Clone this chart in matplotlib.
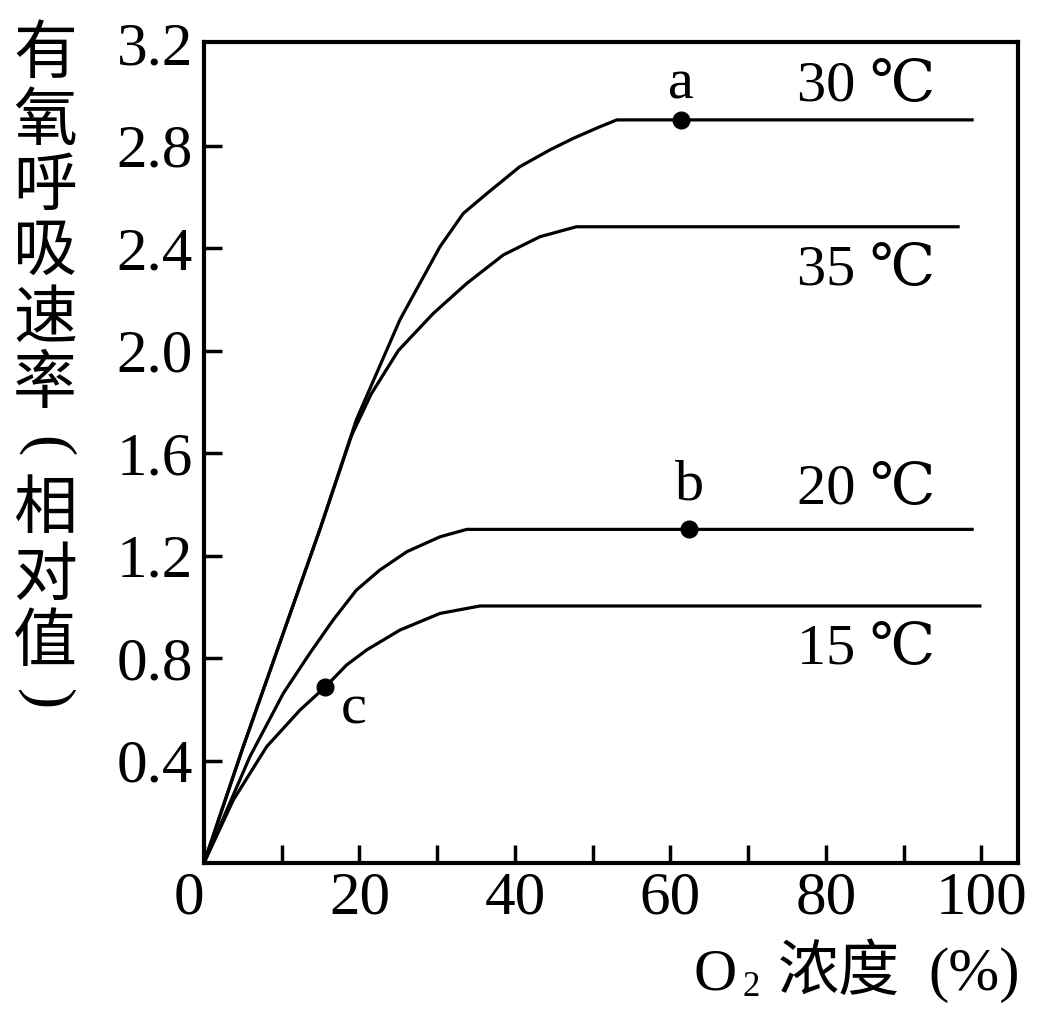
import matplotlib
matplotlib.use("Agg")
import matplotlib.pyplot as plt

plt.rcParams['font.family'] = ['Liberation Serif', 'DejaVu Serif', 'Noto Sans CJK SC']

# O2 concentration (%) vs relative aerobic respiration rate
x30 = [0, 5, 10, 15, 19.6, 25.2, 30.35, 33.35, 36.4, 40.6, 44.5, 47.5, 50.9, 53.1, 99]
y30 = [0, 0.45, 0.88, 1.31, 1.73, 2.12, 2.405, 2.535, 2.613, 2.717, 2.783, 2.828, 2.873, 2.90, 2.90]
x35 = [0, 5, 10, 15, 19.0, 21.5, 25.0, 29.5, 33.8, 38.5, 43.2, 47.9, 97.2]
y35 = [0, 0.45, 0.88, 1.31, 1.67, 1.83, 2.00, 2.145, 2.262, 2.373, 2.444, 2.483, 2.483]
x20 = [0, 5.9, 10.2, 13.6, 16.6, 19.6, 22.6, 26.1, 30.35, 33.8, 99]
y20 = [0, 0.415, 0.662, 0.818, 0.948, 1.065, 1.143, 1.215, 1.273, 1.302, 1.302]
x15 = [0, 3.77, 8.06, 12.35, 15.56, 18.35, 20.9, 25.2, 30.35, 35.5, 100]
y15 = [0, 0.246, 0.454, 0.597, 0.686, 0.773, 0.831, 0.909, 0.974, 1.003, 1.003]

curve_labels = ['30 ℃', '35 ℃', '20 ℃', '15 ℃']
label_pos = [(76.3, 3.03), (76.3, 2.31), (76.3, 1.456), (76.3, 0.83)]

points = ['a', 'b', 'c']
pt_x = [61.3, 62.4, 15.56]
pt_y = [2.90, 1.302, 0.686]
pt_text = [(61.3, 3.04), (62.4, 1.475), (19.2, 0.60)]

yticks = [0.4, 0.8, 1.2, 1.6, 2.0, 2.4, 2.8, 3.2]
xticks = [0, 20, 40, 60, 80, 100]
ylabel_chars = list('有氧呼吸速率') + ['('] + list('相对值') + [')']

W, H = 1050, 1031
fig = plt.figure(figsize=(W / 100, H / 100), dpi=100)
ax = fig.add_axes([204 / W, 1 - 863 / H, (1018 - 204) / W, (863 - 42) / H])

lw = 2.3
for xs, ys in [(x30, y30), (x35, y35), (x20, y20), (x15, y15)]:
    ax.plot(xs, ys, color='black', lw=lw, solid_capstyle='butt',
            solid_joinstyle='round')

ax.plot(pt_x, pt_y, 'o', color='black', ms=12)
for s, (tx, ty) in zip(points, pt_text):
    ax.text(tx, ty, s, fontsize=42, ha='center', va='center')
for s, (tx, ty) in zip(curve_labels, label_pos):
    ax.text(tx, ty, s, fontsize=42, ha='left', va='center')

ax.set_xlim(0, 104.7)
ax.set_ylim(0, 3.204)
for sp in ax.spines.values():
    sp.set_linewidth(3)

ax.set_yticks(yticks)
ax.set_yticklabels([f'{v:.1f}' for v in yticks])
ax.set_xticks(xticks)
ax.set_xticklabels([str(v) for v in xticks])
ax.set_xticks(range(10, 101, 20), minor=True)
ax.tick_params(axis='both', which='both', direction='in', length=13, width=2.5,
               labelsize=44, pad=8)
ax.tick_params(axis='x', pad=6)
ax.get_xticklabels()[0].set_horizontalalignment('right')
ax.yaxis.get_major_ticks()[-1].tick1line.set_visible(False)

# vertical y label, one character per row
ys_px = [55, 122, 187, 252, 320, 385, 447, 510, 577, 643, 700]
for ch, yp in zip(ylabel_chars, ys_px):
    if ch in '()':
        fig.text(45 / W, 1 - yp / H, ch, fontsize=46, rotation=-90,
                 ha='center', va='center')
    else:
        fig.text(45 / W, 1 - yp / H, ch, fontsize=46, ha='center', va='center',
                 family='Noto Sans CJK SC')

# x label: O2 浓度 (%)
fig.text(694 / W, 1 - 975 / H, 'O', fontsize=43, ha='left', va='center')
fig.text(743 / W, 1 - 987 / H, '2', fontsize=25, ha='left', va='center')
fig.text(778 / W, 1 - 973 / H, '浓度', fontsize=44, ha='left', va='center',
         family='Noto Sans CJK SC')
fig.text(1020 / W, 1 - 975 / H, '(%)', fontsize=44, ha='right', va='center')

fig.savefig('out.png', dpi=100)
